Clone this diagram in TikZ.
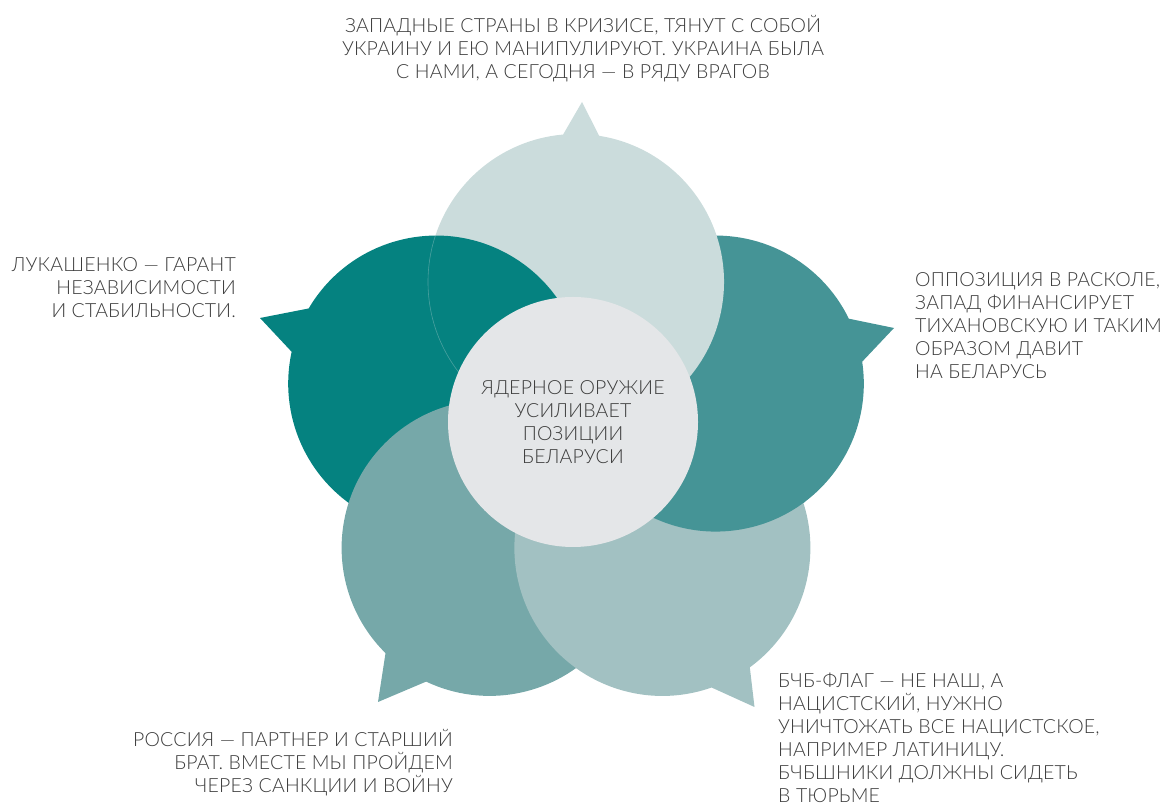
\documentclass[tikz,border=0pt]{standalone}
\usepackage{fontspec}
\setmainfont{Lato Light}[LetterSpace=1]
\usepackage{xcolor}
\usetikzlibrary{calc}
\tikzset{>=latex}

\definecolor{colT}{HTML}{CBDCDC}
\definecolor{colR}{HTML}{459496}
\definecolor{colBR}{HTML}{A2C1C2}
\definecolor{colBL}{HTML}{76A8A9}
\definecolor{colL}{HTML}{058280}
\definecolor{colC}{HTML}{E4E6E8}
\definecolor{textgray}{HTML}{3C3C3C}

% speech bubble: colour, centre, corner angles, tip
\newcommand{\bubble}[5]{%
  \fill[#1] ($(#2)+(#3:148)$) -- (#5) -- ($(#2)+(#4:148)$)
    arc[start angle=#4, end angle=#3-360, radius=148] -- cycle;}

\begin{document}
\begin{tikzpicture}[x=1pt,y=1pt,
    txt/.style={text=textgray,inner sep=0pt,font=\fontsize{19.5}{23}\selectfont}]
            \useasboundingbox (0,0) rectangle (1170,805);
            % centres and tips
            \coordinate (O) at (576,376);
            \coordinate (T) at ($(O)+(90:147)$);
            \coordinate (R) at ($(O)+(18:147)$);
            \coordinate (BR) at ($(O)+(-54:147)$);
            \coordinate (BL) at ($(O)+(-126:147)$);
            \coordinate (L) at ($(O)+(162:147)$);
            \coordinate (Ttip) at (582,703);
            \coordinate (Rtip) at (894,477);
            \coordinate (BRtip) at (754.5,98);
            \coordinate (BLtip) at (378,103);
            \coordinate (Ltip) at (260,487);
            % bubbles, each one over the next
            \bubble{colR}{R}{26}{8.5}{Rtip}
            \bubble{colT}{T}{95}{81}{Ttip}
            \bubble{colL}{L}{167.6}{149.5}{Ltip}
            \begin{scope}
                \clip (L) circle (148);
                \draw[colT,opacity=.35,line width=.6pt] (T) circle (148);
            \end{scope}
            \bubble{colBL}{BL}{-115.4}{-134.7}{BLtip}
            \bubble{colBR}{BR}{-53.8}{-70.6}{BRtip}
            \begin{scope}
                \clip (BR) circle (150);
                \bubble{colR}{R}{26}{8.5}{Rtip}
            \end{scope}
            \node[txt,circle,fill=colC,minimum size=250pt,align=center] (C) at (573,383)
                {ЯДЕРНОЕ ОРУЖИЕ\\УСИЛИВАЕТ\\ПОЗИЦИИ\\БЕЛАРУСИ};
            % labels
            \node[txt,align=center] (tT) at (583,756)
                {ЗАПАДНЫЕ СТРАНЫ В КРИЗИСЕ, ТЯНУТ С СОБОЙ\\УКРАИНУ И ЕЮ МАНИПУЛИРУЮТ. УКРАИНА БЫЛА\\С НАМИ, А СЕГОДНЯ — В РЯДУ ВРАГОВ};
            \node[txt,align=right,anchor=east] (tL) at (236,517)
                {ЛУКАШЕНКО — ГАРАНТ\\НЕЗАВИСИМОСТИ\\И СТАБИЛЬНОСТИ.};
            \node[txt,align=left,anchor=west] (tR) at (915,479)
                {ОППОЗИЦИЯ В РАСКОЛЕ,\\ЗАПАД ФИНАНСИРУЕТ\\ТИХАНОВСКУЮ И ТАКИМ\\ОБРАЗОМ ДАВИТ\\НА БЕЛАРУСЬ};
            \node[txt,align=left,anchor=west] (tBR) at (778,67)
                {БЧБ-ФЛАГ — НЕ НАШ, А\\НАЦИСТСКИЙ, НУЖНО\\УНИЧТОЖАТЬ ВСЕ НАЦИСТСКОЕ,\\НАПРИМЕР ЛАТИНИЦУ.\\БЧБШНИКИ ДОЛЖНЫ СИДЕТЬ\\В ТЮРЬМЕ};
            \node[txt,align=right,anchor=east] (tBL) at (453,42)
                {РОССИЯ — ПАРТНЕР И СТАРШИЙ\\БРАТ. ВМЕСТЕ МЫ ПРОЙДЕМ\\ЧЕРЕЗ САНКЦИИ И ВОЙНУ};
        \end{tikzpicture}
\end{document}
